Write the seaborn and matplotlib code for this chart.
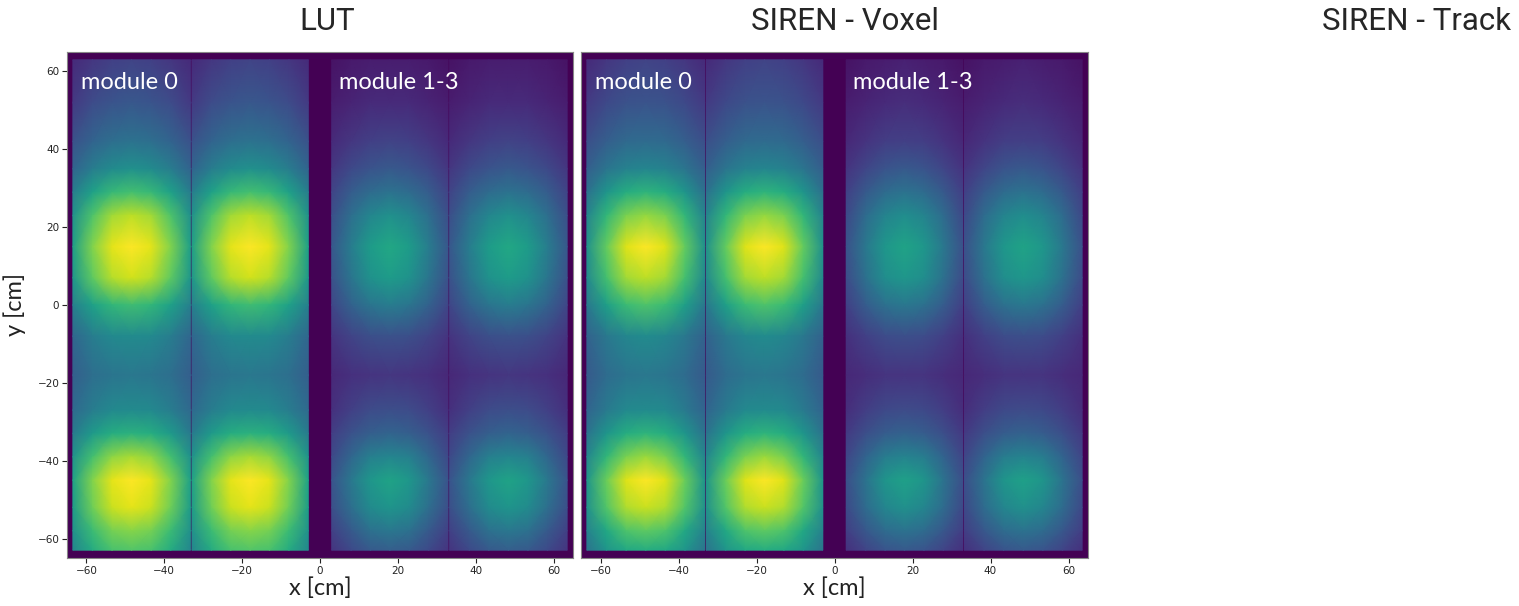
import numpy as np
import matplotlib
matplotlib.use("Agg")
import matplotlib.pyplot as plt
import seaborn as sns

# ---------------- data ----------------
panel_titles = ["LUT", "SIREN - Voxel", "SIREN - Track"]
module_labels = ["module 0", "module 1-3"]
tick_values = [-60, -40, -20, 0, 20, 40, 60]
# TPC x extents (cm): module 0 left/right TPC, module 1-3 left/right TPC
tpc_x_ranges = [(-63.5, -33.3), (-32.9, -3.0), (3.0, 32.9), (33.3, 63.5)]
# sample positions across one TPC, as a fraction of its width
col_fraction = [0.0, 1 / 6, 2 / 6, 3 / 6, 4 / 6, 5 / 6, 1.0]
# sample rows (cm)
row_y = [63, 52, 42, 35, 29, 23, 15, 7, 0, -8, -18, -27, -33, -39, -45, -52, -58, -63]

lut_module0 = [
    [0.12, 0.16, 0.19, 0.20, 0.19, 0.16, 0.12],
    [0.17, 0.23, 0.26, 0.27, 0.26, 0.23, 0.17],
    [0.25, 0.32, 0.36, 0.38, 0.36, 0.32, 0.25],
    [0.32, 0.42, 0.48, 0.50, 0.48, 0.42, 0.32],
    [0.42, 0.57, 0.67, 0.70, 0.67, 0.57, 0.42],
    [0.50, 0.72, 0.86, 0.90, 0.86, 0.72, 0.50],
    [0.56, 0.81, 0.96, 1.00, 0.96, 0.81, 0.56],
    [0.53, 0.75, 0.89, 0.93, 0.89, 0.75, 0.53],
    [0.43, 0.57, 0.66, 0.69, 0.66, 0.57, 0.43],
    [0.33, 0.42, 0.47, 0.48, 0.47, 0.42, 0.33],
    [0.30, 0.36, 0.39, 0.40, 0.39, 0.36, 0.30],
    [0.34, 0.42, 0.47, 0.48, 0.47, 0.42, 0.34],
    [0.41, 0.54, 0.62, 0.64, 0.62, 0.54, 0.41],
    [0.51, 0.70, 0.83, 0.87, 0.83, 0.70, 0.51],
    [0.57, 0.81, 0.96, 1.00, 0.96, 0.81, 0.57],
    [0.55, 0.78, 0.92, 0.96, 0.92, 0.78, 0.55],
    [0.50, 0.68, 0.79, 0.82, 0.79, 0.68, 0.50],
    [0.46, 0.61, 0.71, 0.73, 0.71, 0.61, 0.46],
]
lut_module13 = [
    [0.05, 0.07, 0.08, 0.08, 0.08, 0.07, 0.05],
    [0.08, 0.10, 0.12, 0.12, 0.12, 0.10, 0.08],
    [0.12, 0.16, 0.19, 0.20, 0.19, 0.16, 0.12],
    [0.16, 0.22, 0.26, 0.28, 0.26, 0.22, 0.16],
    [0.20, 0.29, 0.35, 0.38, 0.35, 0.29, 0.20],
    [0.24, 0.36, 0.46, 0.50, 0.46, 0.36, 0.24],
    [0.27, 0.42, 0.55, 0.60, 0.55, 0.42, 0.27],
    [0.25, 0.39, 0.51, 0.55, 0.51, 0.39, 0.25],
    [0.21, 0.31, 0.39, 0.42, 0.39, 0.31, 0.21],
    [0.15, 0.20, 0.24, 0.25, 0.24, 0.20, 0.15],
    [0.11, 0.14, 0.15, 0.16, 0.15, 0.14, 0.11],
    [0.14, 0.19, 0.23, 0.24, 0.23, 0.19, 0.14],
    [0.18, 0.25, 0.30, 0.32, 0.30, 0.25, 0.18],
    [0.22, 0.33, 0.43, 0.46, 0.43, 0.33, 0.22],
    [0.26, 0.40, 0.53, 0.58, 0.53, 0.40, 0.26],
    [0.24, 0.36, 0.48, 0.52, 0.48, 0.36, 0.24],
    [0.19, 0.28, 0.37, 0.40, 0.37, 0.28, 0.19],
    [0.15, 0.22, 0.28, 0.30, 0.28, 0.22, 0.15],
]
siren_module0 = [
    [0.12, 0.16, 0.19, 0.20, 0.19, 0.16, 0.12],
    [0.17, 0.22, 0.25, 0.26, 0.25, 0.22, 0.17],
    [0.24, 0.30, 0.34, 0.35, 0.34, 0.30, 0.24],
    [0.30, 0.39, 0.44, 0.46, 0.44, 0.39, 0.30],
    [0.37, 0.52, 0.62, 0.65, 0.62, 0.52, 0.37],
    [0.45, 0.66, 0.80, 0.84, 0.80, 0.66, 0.45],
    [0.50, 0.76, 0.95, 1.00, 0.95, 0.76, 0.50],
    [0.47, 0.70, 0.86, 0.90, 0.86, 0.70, 0.47],
    [0.40, 0.56, 0.68, 0.72, 0.68, 0.56, 0.40],
    [0.31, 0.40, 0.46, 0.48, 0.46, 0.40, 0.31],
    [0.28, 0.35, 0.39, 0.40, 0.39, 0.35, 0.28],
    [0.32, 0.41, 0.47, 0.48, 0.47, 0.41, 0.32],
    [0.38, 0.52, 0.62, 0.65, 0.62, 0.52, 0.38],
    [0.46, 0.66, 0.80, 0.85, 0.80, 0.66, 0.46],
    [0.52, 0.77, 0.95, 1.00, 0.95, 0.77, 0.52],
    [0.50, 0.73, 0.88, 0.92, 0.88, 0.73, 0.50],
    [0.44, 0.60, 0.72, 0.75, 0.72, 0.60, 0.44],
    [0.38, 0.52, 0.60, 0.62, 0.60, 0.52, 0.38],
]
siren_module13 = [
    [0.05, 0.07, 0.08, 0.09, 0.08, 0.07, 0.05],
    [0.08, 0.10, 0.12, 0.13, 0.12, 0.10, 0.08],
    [0.11, 0.15, 0.18, 0.19, 0.18, 0.15, 0.11],
    [0.15, 0.21, 0.26, 0.28, 0.26, 0.21, 0.15],
    [0.19, 0.28, 0.35, 0.38, 0.35, 0.28, 0.19],
    [0.22, 0.35, 0.45, 0.49, 0.45, 0.35, 0.22],
    [0.25, 0.40, 0.53, 0.58, 0.53, 0.40, 0.25],
    [0.23, 0.37, 0.49, 0.53, 0.49, 0.37, 0.23],
    [0.19, 0.29, 0.37, 0.40, 0.37, 0.29, 0.19],
    [0.14, 0.19, 0.23, 0.24, 0.23, 0.19, 0.14],
    [0.11, 0.13, 0.15, 0.15, 0.15, 0.13, 0.11],
    [0.13, 0.18, 0.22, 0.23, 0.22, 0.18, 0.13],
    [0.17, 0.24, 0.29, 0.31, 0.29, 0.24, 0.17],
    [0.21, 0.32, 0.42, 0.45, 0.42, 0.32, 0.21],
    [0.24, 0.38, 0.52, 0.57, 0.52, 0.38, 0.24],
    [0.22, 0.35, 0.46, 0.50, 0.46, 0.35, 0.22],
    [0.18, 0.27, 0.35, 0.38, 0.35, 0.27, 0.18],
    [0.14, 0.20, 0.26, 0.28, 0.26, 0.20, 0.14],
]

# ---------------- style ----------------
sns.set_theme(style="white")
plt.rcParams["font.family"] = ["DejaVu Sans"]
cmap = sns.color_palette("viridis", as_cmap=True)
label_font = ["Lato", "DejaVu Sans"]
title_font = ["Roboto", "DejaVu Sans"]

fig = plt.figure(figsize=(15.19, 6.06), dpi=100)
W, H = 1519, 606
ax_boxes = [(67, 52, 506, 506), (581, 52, 507, 506)]
axes = []
for (l, t, w, h) in ax_boxes:
    axes.append(fig.add_axes([l / W, 1 - (t + h) / H, w / W, h / H]))

panels = [(lut_module0, lut_module13), (siren_module0, siren_module13)]

for i, (ax, (m0, m13)) in enumerate(zip(axes, panels)):
    ax.set_facecolor(cmap(0.0))
    grids = [m0, m0, m13, m13]
    for grid, (x0, x1) in zip(grids, tpc_x_ranges):
        xs = [x0 + f * (x1 - x0) for f in col_fraction]
        X, Y = np.meshgrid(xs, row_y)
        ax.pcolormesh(X, Y, np.array(grid), cmap=cmap, vmin=0, vmax=1,
                      shading="gouraud", rasterized=True)
    ax.set_xlim(-65, 65)
    ax.set_ylim(-65, 65)
    ax.set_xticks(tick_values)
    ax.tick_params(axis="x", bottom=True, length=3.5, width=0.8,
                   labelsize=7.5, pad=2, colors="#222222")
    if i == 0:
        ax.set_yticks(tick_values)
        ax.tick_params(axis="y", left=True, length=3.5, width=0.8,
                       labelsize=7.5, pad=2, colors="#222222")
        ax.set_ylabel("y [cm]", fontsize=17, family=label_font,
                      color="#222222", labelpad=8)
    else:
        ax.set_yticks([])
    ax.set_xlabel("x [cm]", fontsize=17, family=label_font,
                  color="#222222", labelpad=1)
    for sp in ax.spines.values():
        sp.set_color("#888888")
        sp.set_linewidth(0.8)
    ax.text(-61.3, 55.5, module_labels[0], color="white", fontsize=17,
            family=label_font, ha="left", va="baseline")
    ax.text(4.8, 55.5, module_labels[1], color="white", fontsize=17,
            family=label_font, ha="left", va="baseline")

title_x = [327, 845, 1416]
for tx, ttl in zip(title_x, panel_titles):
    fig.text(tx / W, 1 - 22 / H, ttl, ha="center", va="center",
             fontsize=22.5, family=title_font, color="#262626")

fig.savefig("out.png", dpi=100)
